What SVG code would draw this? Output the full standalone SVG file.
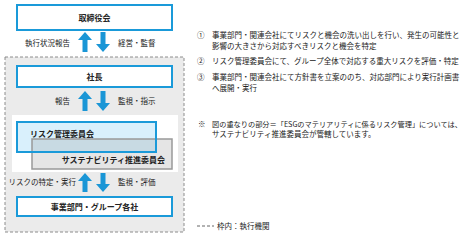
<svg xmlns="http://www.w3.org/2000/svg" width="467" height="237" viewBox="0 0 467 237">
<style>
text{font-family:"Noto Sans CJK JP","Noto Sans",sans-serif;fill:#222;}
.box{fill:#fff;stroke:#1a9ad9;stroke-width:2;}
.bl{font-size:8px;font-weight:bold;text-anchor:middle;}
.lbl{font-size:7.5px;}
.note{font-size:7.5px;}
.arrow{fill:#1a96d6;}
</style>
<rect id="exec-frame" x="5" y="57" width="179" height="175" fill="#ebebeb" stroke="#8c8c8c" stroke-width="1" stroke-dasharray="3 2"/>
<rect x="12" y="115" width="166" height="57" fill="#fff"/>
<g id="board">
<rect class="box" x="17" y="5" width="155" height="25"/>
<text class="bl" x="94.5" y="20.5">取締役会</text>
</g>
<g id="president">
<rect class="box" x="17" y="66" width="155" height="21"/>
<text class="bl" x="94.5" y="79.5">社長</text>
</g>
<g id="risk-committee">
<rect x="17" y="122" width="139" height="30" fill="#d9f0fc"/>
</g>
<g id="sustainability-committee">
<rect x="32" y="139" width="140" height="30" fill="#969696" fill-opacity="0.25" stroke="#999" stroke-width="1.5"/>
<text class="bl" x="165" y="163" style="text-anchor:end">サステナビリティ推進委員会</text>
</g>
<g id="risk-committee-frame">
<rect x="17" y="122" width="139" height="30" fill="none" stroke="#1a9ad9" stroke-width="2"/>
<text class="bl" x="30" y="137" style="text-anchor:start">リスク管理委員会</text>
</g>
<g id="business-units">
<rect class="box" x="17" y="197" width="155" height="19"/>
<text class="bl" x="94.5" y="209.5">事業部門・グループ各社</text>
</g>
<g id="connectors">
<path class="arrow" d="M85,32 L92,40 L87.5,40 L87.5,52 L82.5,52 L82.5,40 L78,40 Z"/>
<path class="arrow" d="M103,52 L110,44 L105.5,44 L105.5,32 L100.5,32 L100.5,44 L96,44 Z"/>
<text class="lbl" x="70" y="46" text-anchor="end">執行状況報告</text>
<text class="lbl" x="118" y="46">経営・監督</text>
<path class="arrow" d="M85,91 L92,99 L87.5,99 L87.5,111 L82.5,111 L82.5,99 L78,99 Z"/>
<path class="arrow" d="M103,111 L110,103 L105.5,103 L105.5,91 L100.5,91 L100.5,103 L96,103 Z"/>
<text class="lbl" x="70" y="104" text-anchor="end">報告</text>
<text class="lbl" x="118" y="104">監視・指示</text>
<path class="arrow" d="M85,173 L92,181 L87.5,181 L87.5,192 L82.5,192 L82.5,181 L78,181 Z"/>
<path class="arrow" d="M103,192 L110,184 L105.5,184 L105.5,173 L100.5,173 L100.5,184 L96,184 Z"/>
<text class="lbl" x="76" y="185" text-anchor="end">リスクの特定・実行</text>
<text class="lbl" x="118" y="185">監視・評価</text>
</g>
<g id="notes">
<text class="note" x="197" y="38">①</text>
<text class="note" x="212" y="38">事業部門・関連会社にてリスクと機会の洗い出しを行い、発生の可能性と</text>
<text class="note" x="212" y="49">影響の大きさから対応すべきリスクと機会を特定</text>
<text class="note" x="197" y="64">②</text>
<text class="note" x="212" y="64">リスク管理委員会にて、グループ全体で対応する重大リスクを評価・特定</text>
<text class="note" x="197" y="80">③</text>
<text class="note" x="212" y="80">事業部門・関連会社にて方針書を立案ののち、対応部門により実行計画書</text>
<text class="note" x="212" y="91">へ展開・実行</text>
<text class="note" x="198" y="127">※</text>
<text class="note" x="212" y="127" style="font-size:7.2px">図の重なりの部分＝「ESGのマテリアリティに係るリスク管理」については、</text>
<text class="note" x="212" y="137">サステナビリティ推進委員会が管轄しています。</text>
</g>
<g id="legend">
<line x1="197" y1="226" x2="214" y2="226" stroke="#666" stroke-width="1" stroke-dasharray="3 2"/>
<text class="note" x="217" y="229">枠内：執行機関</text>
</g>
</svg>
